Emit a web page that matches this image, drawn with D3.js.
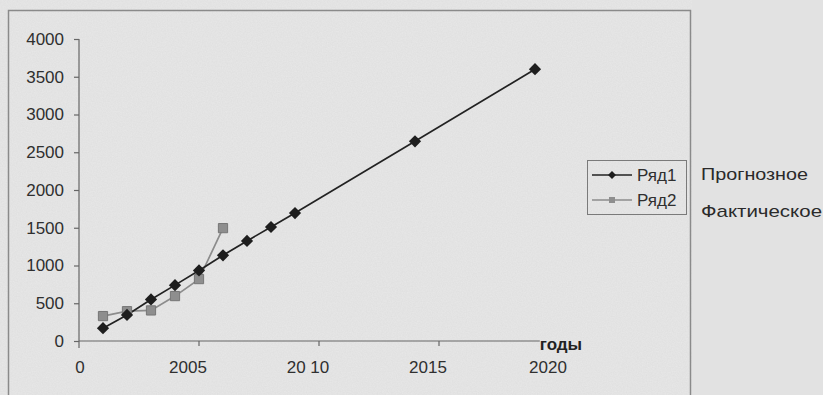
<!DOCTYPE html>
<html>
<head>
<meta charset="utf-8">
<script src="https://cdn.jsdelivr.net/npm/d3@7"></script>
<style>
  html, body { margin: 0; padding: 0; background: #e3e3e3; }
  svg { display: block; }
</style>
</head>
<body>
<svg id="chart" width="823" height="395"></svg>
<script>
// Прогнозное и фактическое значения по годам
const forecastYears  = [2001, 2002, 2003, 2004, 2005, 2006, 2007, 2008, 2009, 2014, 2019];
const forecastValues = [170, 345, 550, 740, 935, 1135, 1325, 1510, 1695, 2645, 3600];
const actualYears    = [2001, 2002, 2003, 2004, 2005, 2006];
const actualValues   = [330, 395, 405, 595, 820, 1495];

const yTicks = [0, 500, 1000, 1500, 2000, 2500, 3000, 3500, 4000];
const xTickValues = [2000, 2005, 2010, 2015, 2020];
const xTickLabels = ["0", "2005", "20 10", "2015", "2020"];
const seriesNames = ["Ряд1", "Ряд2"];
const sideNotes = ["Прогнозное", "Фактическое"];
const xAxisTitle = "годы";

const svg = d3.select("#chart");

// Фон и зернистость бумаги
const defs = svg.append("defs");
const grain = defs.append("filter").attr("id", "grain")
  .attr("x", 0).attr("y", 0).attr("width", "100%").attr("height", "100%");
grain.append("feTurbulence").attr("type", "fractalNoise")
  .attr("baseFrequency", 0.8).attr("numOctaves", 2).attr("seed", 3);
grain.append("feColorMatrix").attr("type", "matrix")
  .attr("values", "0 0 0 0 0.45  0 0 0 0 0.45  0 0 0 0 0.45  0 0 0 0.18 0");

svg.append("rect").attr("x", 0).attr("y", 0).attr("width", 823).attr("height", 395)
  .attr("fill", "#e2e2e2");
svg.append("rect").attr("x", 0).attr("y", 0).attr("width", 692).attr("height", 395)
  .attr("fill", "#e8e8e8");
svg.append("rect").attr("x", 0).attr("y", 0).attr("width", 692).attr("height", 395)
  .attr("filter", "url(#grain)");

// Рамка области диаграммы
svg.append("path")
  .attr("d", "M8.5,400 V10.5 H690.5 V400")
  .attr("fill", "none").attr("stroke", "#8a8a8a").attr("stroke-width", 1.5);

// Шкалы
const x = d3.scaleLinear().domain([2000, 2020]).range([79, 559]);
const y = d3.scaleLinear().domain([0, 4000]).range([341, 39]);

const ink = "#2f2f2f";
const font = "'Liberation Sans', Arial, sans-serif";

// Ось Y
const yAxis = svg.append("g")
  .attr("transform", `translate(${x(2000)},0)`)
  .call(d3.axisLeft(y).tickValues(yTicks).tickFormat(d3.format("d"))
    .tickSize(5).tickSizeOuter(0).tickPadding(10));
yAxis.select(".domain").attr("stroke", "#666").attr("stroke-width", 1.2)
  .attr("d", `M0,${y(4000)}V${y(0) + 7}`);
yAxis.selectAll(".tick line").attr("stroke", "#666").attr("stroke-width", 1.2);
yAxis.selectAll(".tick text").attr("fill", ink).attr("font-family", font).attr("font-size", 17);

// Ось X
const xAxis = svg.append("g").attr("transform", `translate(0,${y(0)})`);
xAxis.append("line")
  .attr("x1", x(2000)).attr("x2", x(2019.2))
  .attr("stroke", "#666").attr("stroke-width", 1.2);
xAxis.selectAll("line.tick")
  .data([2005, 2010, 2015])
  .join("line").attr("class", "tick")
  .attr("x1", d => x(d)).attr("x2", d => x(d))
  .attr("y1", 0).attr("y2", 5)
  .attr("stroke", "#666").attr("stroke-width", 1.2);
xAxis.selectAll("text.tick")
  .data(xTickValues)
  .join("text").attr("class", "tick")
  .attr("x", (d, i) => x(d) + (i === 0 ? 1 : -11))
  .attr("y", 32)
  .attr("text-anchor", "middle")
  .attr("fill", ink).attr("font-family", font).attr("font-size", 17)
  .text((d, i) => xTickLabels[i]);
xAxis.append("text")
  .attr("x", x(2019.2)).attr("y", 9)
  .attr("fill", "#222").attr("font-family", font).attr("font-size", 17)
  .attr("font-weight", "bold")
  .text(xAxisTitle);

// Линии рядов
const forecast = forecastYears.map((yr, i) => ({ yr, v: forecastValues[i] }));
const actual = actualYears.map((yr, i) => ({ yr, v: actualValues[i] }));
const line = d3.line().x(d => x(d.yr)).y(d => y(d.v));

const diamond = d3.symbol().type(d3.symbolDiamond2).size(95);
const square = d3.symbol().type(d3.symbolSquare).size(85);

svg.append("path").datum(actual).attr("d", line)
  .attr("fill", "none").attr("stroke", "#8c8c8c").attr("stroke-width", 1.7);
svg.append("path").datum(forecast).attr("d", line)
  .attr("fill", "none").attr("stroke", "#222").attr("stroke-width", 1.7);

svg.selectAll("path.actual-mark").data(actual).join("path").attr("class", "actual-mark")
  .attr("transform", d => `translate(${x(d.yr)},${y(d.v)})`)
  .attr("d", square()).attr("fill", "#8e8e8e").attr("stroke", "#767676").attr("stroke-width", 1);
svg.selectAll("path.forecast-mark").data(forecast).join("path").attr("class", "forecast-mark")
  .attr("transform", d => `translate(${x(d.yr)},${y(d.v)})`)
  .attr("d", diamond()).attr("fill", "#1e1e1e");

// Легенда
const legend = svg.append("g").attr("transform", "translate(587,160)");
legend.append("rect").attr("x", 0.5).attr("y", 0.5).attr("width", 99).attr("height", 54)
  .attr("fill", "none").attr("stroke", "#7a7a7a").attr("stroke-width", 1);
const styles = [
  { stroke: "#222", fill: "#1e1e1e", sym: d3.symbol().type(d3.symbolDiamond2).size(40) },
  { stroke: "#8c8c8c", fill: "#8e8e8e", sym: d3.symbol().type(d3.symbolSquare).size(36) }
];
seriesNames.forEach((name, i) => {
  const row = legend.append("g").attr("transform", `translate(0,${15 + i * 25})`);
  row.append("line").attr("x1", 5).attr("x2", 45).attr("y1", 0).attr("y2", 0)
    .attr("stroke", styles[i].stroke).attr("stroke-width", 1.5);
  row.append("path").attr("transform", "translate(25,0)").attr("d", styles[i].sym())
    .attr("fill", styles[i].fill);
  row.append("text").attr("x", 50).attr("y", 6)
    .attr("fill", ink).attr("font-family", font).attr("font-size", 17).text(name);
});

// Подписи справа от легенды
svg.selectAll("text.note").data(sideNotes).join("text").attr("class", "note")
  .attr("x", 701).attr("y", (d, i) => 180 + i * 37)
  .attr("fill", "#2a2a2a").attr("font-family", "'Liberation Sans Narrow', 'Liberation Sans', sans-serif")
  .attr("font-size", 17)
  .attr("textLength", (d, i) => i === 0 ? 107 : 121)
  .attr("lengthAdjust", "spacingAndGlyphs")
  .text(d => d);
</script>
</body>
</html>
